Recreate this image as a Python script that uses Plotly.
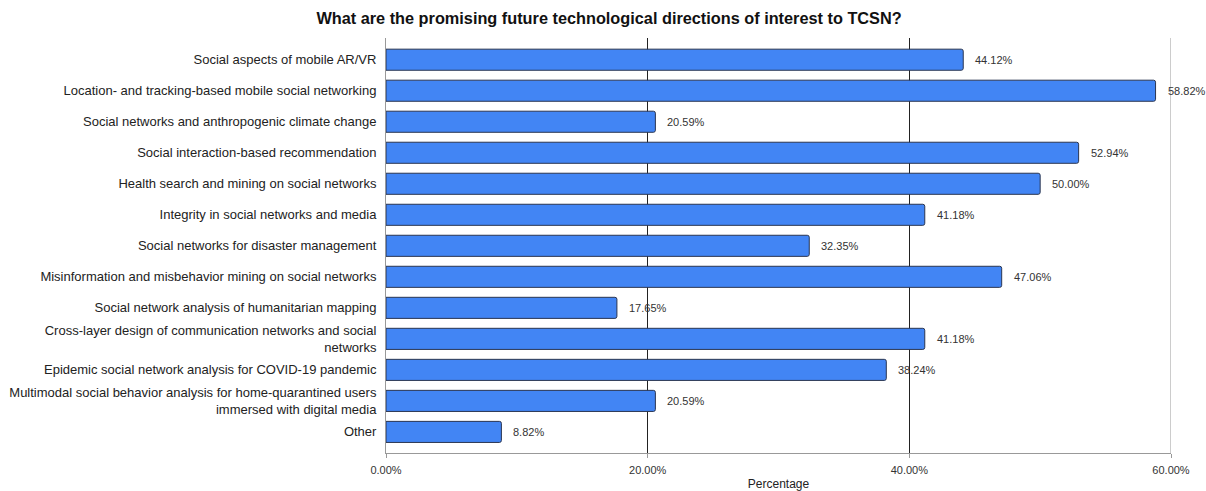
import plotly.graph_objects as go

categories = [
    "Social aspects of mobile AR/VR",
    "Location- and tracking-based mobile social networking",
    "Social networks and anthropogenic climate change",
    "Social interaction-based recommendation",
    "Health search and mining on social networks",
    "Integrity in social networks and media",
    "Social networks for disaster management",
    "Misinformation and misbehavior mining on social networks",
    "Social network analysis of humanitarian mapping",
    "Cross-layer design of communication networks and social<br>networks",
    "Epidemic social network analysis for COVID-19 pandemic",
    "Multimodal social behavior analysis for home-quarantined users<br>immersed with digital media",
    "Other",
]
values = [44.12, 58.82, 20.59, 52.94, 50.00, 41.18, 32.35, 47.06, 17.65, 41.18, 38.24, 20.59, 8.82]
tick_vals = [0, 20, 40, 60]
tick_text = ["0.00%", "20.00%", "40.00%", "60.00%"]

font = "Liberation Sans, Arial, sans-serif"

fig = go.Figure()
fig.add_trace(go.Bar(
    x=values, y=categories, orientation="h",
    marker=dict(color="#4285F4", line=dict(color="#2a3550", width=1), cornerradius=2),
    width=0.68,
    hoverinfo="skip",
))

for v, c in zip(values, categories):
    fig.add_annotation(x=v, y=c, text=f"{v:.2f}%", showarrow=False,
                       xanchor="left", xshift=10, yanchor="middle",
                       font=dict(family=font, size=11, color="#333333"))

fig.update_layout(
    width=1206, height=491,
    margin=dict(l=386, r=35, t=38, b=38),
    plot_bgcolor="white", paper_bgcolor="white",
    showlegend=False,
    title=dict(text="<b>What are the promising future technological directions of interest to TCSN?</b>",
               x=0.505, xanchor="center", y=0.962, yanchor="middle",
               font=dict(family=font, size=16.3, color="#111111")),
    font=dict(family=font, size=13, color="#222222"),
)
fig.update_xaxes(
    automargin=False,
    range=[0, 60], tickvals=tick_vals, ticktext=tick_text,
    showgrid=True, gridcolor="#222222", gridwidth=1,
    zeroline=False, showline=True, linecolor="#999999", linewidth=1,
    ticks="outside", ticklen=4, tickcolor="#999999", ticklabelstandoff=3,
    tickfont=dict(family=font, size=11, color="#333333"),
    title=dict(text="Percentage", standoff=10, font=dict(family=font, size=12, color="#222222")),
)
fig.update_yaxes(
    automargin=False,
    autorange=False, range=[12.68, -0.7], categoryorder="array", categoryarray=categories,
    showline=True, linecolor="#999999", linewidth=1,
    ticks="", ticklabelstandoff=6,
    tickfont=dict(family=font, size=13, color="#222222"),
)
fig.add_shape(type="line", xref="x", yref="paper", x0=60, x1=60, y0=0, y1=1,
              line=dict(color="#999999", width=1))

fig.write_html("out.html")
